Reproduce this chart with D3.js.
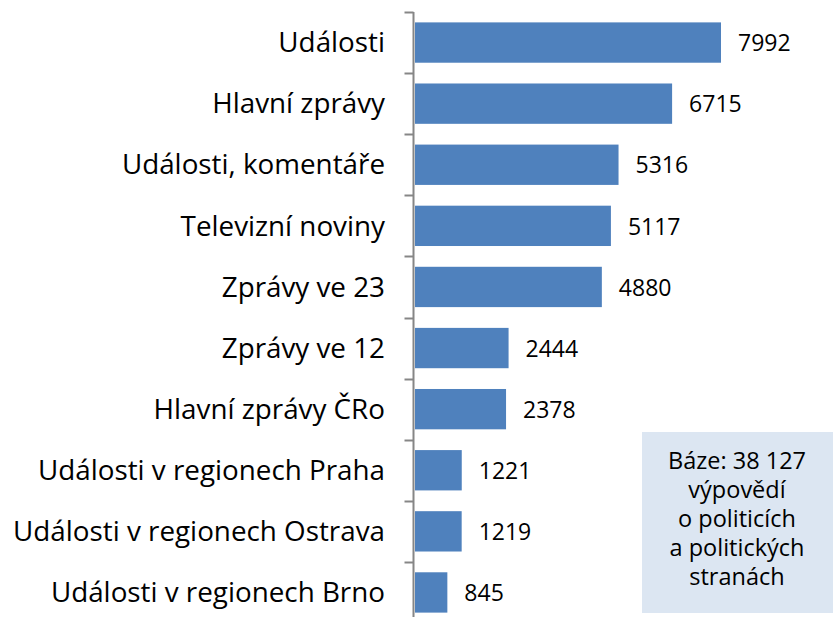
<!DOCTYPE html>
<html><head><meta charset="utf-8">
<script src="https://cdn.jsdelivr.net/npm/d3@7"></script>
<style>body{margin:0;background:#fff}svg{display:block}</style>
</head><body>
<svg id="c" width="833" height="617"></svg>
<script>
const categories = ["Události","Hlavní zprávy","Události, komentáře","Televizní noviny","Zprávy ve 23","Zprávy ve 12","Hlavní zprávy ČRo","Události v regionech Praha","Události v regionech Ostrava","Události v regionech Brno"];
const values = [7992,6715,5316,5117,4880,2444,2378,1221,1219,845];
const noteLines = ["Báze: 38 127","výpovědí","o politicích","a politických","stranách"];

const svg = d3.select("#c");
const font = "'Open Sans', sans-serif";
const axisX = 413.5;
const y = d3.scaleBand().domain(categories).range([12, 623]).paddingInner(0.34).paddingOuter(0.17);
const x = d3.scaleLinear().domain([0, 8000]).range([415, 721.3]);

svg.selectAll("rect.bar").data(values).join("rect")
  .attr("class","bar")
  .attr("x", x(0))
  .attr("y", (d,i)=>y(categories[i]))
  .attr("width", d=>x(d)-x(0))
  .attr("height", y.bandwidth())
  .attr("fill","#4f81bd");

const step = y.step();
const g = svg.append("g");
g.append("line").attr("x1",axisX).attr("x2",axisX).attr("y1",12).attr("y2",630).attr("stroke","#868686").attr("stroke-width",2);
d3.range(categories.length+1).forEach(i=>{
  const yy = Math.round(12 + i*step) + 0.5;
  g.append("line").attr("x1",axisX-9).attr("x2",axisX).attr("y1",yy).attr("y2",yy).attr("stroke","#868686").attr("stroke-width",2);
});

svg.selectAll("text.cat").data(categories).join("text")
  .attr("class","cat")
  .attr("x", 385)
  .attr("y", d=>y(d)+y.bandwidth()/2)
  .attr("dy","0.35em")
  .attr("text-anchor","end")
  .attr("font-family",font)
  .attr("font-size",27.8)
  .attr("fill","#000")
  .text(d=>d);

svg.selectAll("text.val").data(values).join("text")
  .attr("class","val")
  .attr("x", d=>x(d)+17)
  .attr("y", (d,i)=>y(categories[i])+y.bandwidth()/2)
  .attr("dy","0.38em")
  .attr("font-family",font)
  .attr("font-size",23)
  .attr("fill","#000")
  .text(d=>d);

svg.append("rect").attr("x",642).attr("y",432).attr("width",191).attr("height",181).attr("fill","#dce6f2");
svg.selectAll("text.note").data(noteLines).join("text")
  .attr("class","note")
  .attr("x",737)
  .attr("y",(d,i)=>469+i*29)
  .attr("text-anchor","middle")
  .attr("font-family",font)
  .attr("font-size",23.5)
  .attr("fill","#000")
  .text(d=>d);
</script>
</body></html>
